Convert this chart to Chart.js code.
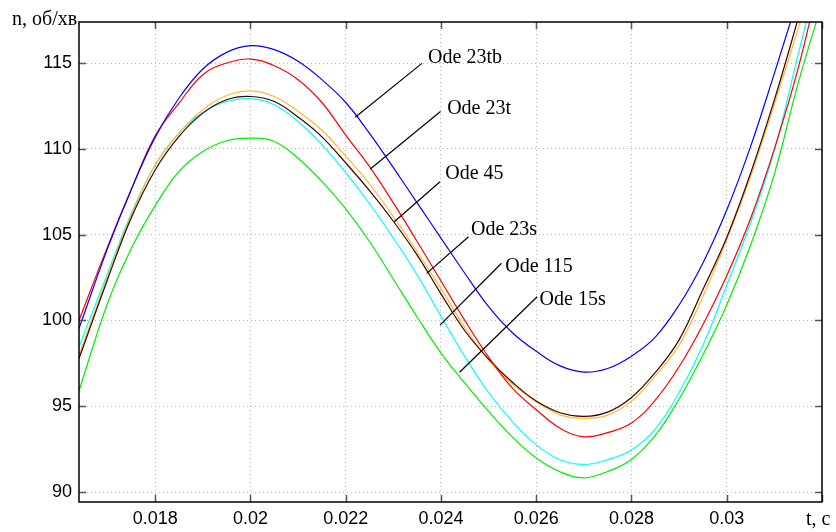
<!DOCTYPE html>
<html>
<head>
<meta charset="utf-8">
<script src="https://cdn.jsdelivr.net/npm/chart.js@4/dist/chart.umd.min.js"></script>
<style>
  body { margin: 0; background: #fff; }
  #wrap { width: 836px; height: 532px; }
</style>
</head>
<body>
<div id="wrap"><canvas id="lineChart"></canvas></div>
<script>
// time samples, s
const times = [0.0164, 0.0170, 0.0175, 0.0180, 0.0185, 0.0190, 0.0195, 0.0200, 0.0205, 0.0210,
               0.0215, 0.0220, 0.0225, 0.0230, 0.0235, 0.0240, 0.0245, 0.0250, 0.0255, 0.0260,
               0.0265, 0.0270, 0.0275, 0.0280, 0.0285, 0.0290, 0.0295, 0.0300, 0.0305, 0.0310,
               0.0315, 0.0320];

// speed n, rpm, one array per solver
const ode23tb = [99.53, 104.2, 107.65, 110.68, 112.96, 114.65, 115.62, 116.01, 115.78, 115.10,
                 114.03, 112.7, 110.9, 108.9, 106.85, 104.8, 102.75, 100.8, 99.28, 98.2,
                 97.35, 96.99, 97.2, 97.92, 99.03, 100.9, 103.35, 106.43, 110.13, 114.4,
                 118.8, 123.0];
const ode23t = [100.0, 104.3, 107.65, 110.76, 112.66, 114.32, 115.0, 115.23, 114.84, 114.03,
                112.7, 110.8, 108.96, 106.85, 104.6, 102.3, 100.0, 97.87, 96.05, 94.8,
                93.72, 93.22, 93.46, 94.02, 95.36, 97.3, 99.75, 102.6, 105.94, 110.0,
                114.7, 120.5];
const ode45 = [97.97, 102.55, 106.15, 109.06, 110.91, 112.28, 113.11, 113.38, 113.05, 112.18,
               111.08, 109.57, 107.95, 106.05, 104.0, 101.85, 99.6, 97.7, 96.3, 95.26,
               94.5, 94.29, 94.48, 95.3, 96.78, 98.56, 101.4, 104.7, 108.38, 112.6,
               117.0, 121.5];
const ode23s = [97.78, 102.39, 106.0, 108.77, 110.72, 112.08, 112.86, 113.05, 112.76, 111.85,
                110.7, 109.18, 107.56, 105.78, 103.81, 101.55, 99.4, 97.75, 96.4, 95.3,
                94.62, 94.41, 94.66, 95.51, 96.97, 98.87, 101.8, 104.83, 108.57, 112.85,
                117.6, 122.5];
const ode115 = [98.46, 102.74, 106.25, 109.06, 110.91, 112.12, 112.76, 112.92, 112.57, 111.59,
                110.24, 108.61, 106.8, 104.8, 102.65, 100.25, 97.9, 95.8, 94.1, 92.75,
                91.88, 91.61, 91.88, 92.45, 93.67, 95.8, 98.55, 102.05, 105.69, 109.9,
                115.5, 121.0];
const ode15s = [95.9, 101.0, 104.2, 106.69, 108.68, 109.84, 110.47, 110.62, 110.43, 109.45,
                108.1, 106.5, 104.6, 102.4, 100.2, 98.1, 96.35, 94.7, 93.2, 91.98,
                91.18, 90.83, 91.2, 91.9, 93.3, 95.42, 97.98, 100.9, 104.38, 108.53,
                113.83, 118.5];

const xTicks = [0.018, 0.020, 0.022, 0.024, 0.026, 0.028, 0.030, 0.032];
const xTickLabels = ['0.018', '0.02', '0.022', '0.024', '0.026', '0.028', '0.03', ''];
const yTicks = [90, 95, 100, 105, 110, 115];

// callouts: text anchor and leader line ends, in data units
const callouts = [
    { text: 'Ode 23tb', at: [0.02373, 115.33], from: [0.0236, 114.98], to: [0.0222, 111.84] },
    { text: 'Ode 23t',  at: [0.02413, 112.35], from: [0.02399, 112.17], to: [0.02251, 108.81] },
    { text: 'Ode 45',   at: [0.02409, 108.57], from: [0.02398, 108.08], to: [0.02302, 105.75] },
    { text: 'Ode 23s',  at: [0.02463, 105.27], from: [0.02458, 104.88], to: [0.0237, 102.74] },
    { text: 'Ode 115',  at: [0.02535, 103.13], from: [0.02527, 103.33], to: [0.02398, 99.73] },
    { text: 'Ode 15s',  at: [0.02607, 101.22], from: [0.02602, 101.38], to: [0.02439, 96.98] }
];

function series(label, values, color) {
    return {
        label: label,
        data: times.map((t, i) => ({ x: t, y: values[i] })),
        borderColor: color,
        borderWidth: 1.2,
        pointRadius: 0,
        tension: 0.4,
        fill: false
    };
}

// frame, inward ticks, axis names and callouts
const decor = {
    id: 'decor',
    afterDatasetsDraw(chart) {
        const ctx = chart.ctx;
        const a = chart.chartArea;
        const xs = chart.scales.x, ys = chart.scales.y;
        ctx.save();

        ctx.strokeStyle = '#555';
        ctx.lineWidth = 1.5;
        ctx.beginPath();
        xTicks.forEach(v => {
            const px = Math.round(xs.getPixelForValue(v)) + 0.5;
            ctx.moveTo(px, a.bottom); ctx.lineTo(px, a.bottom - 7);
            ctx.moveTo(px, a.top); ctx.lineTo(px, a.top + 7);
        });
        yTicks.forEach(v => {
            const py = Math.round(ys.getPixelForValue(v)) + 0.5;
            ctx.moveTo(a.left, py); ctx.lineTo(a.left + 7, py);
            ctx.moveTo(a.right, py); ctx.lineTo(a.right - 7, py);
        });
        ctx.stroke();

        ctx.strokeStyle = '#000';
        ctx.lineWidth = 1.5;
        ctx.strokeRect(a.left, a.top, a.right - a.left, a.bottom - a.top);

        ctx.fillStyle = '#000';
        ctx.font = '20px "Liberation Serif", "Times New Roman", serif';
        ctx.textBaseline = 'alphabetic';
        ctx.textAlign = 'left';
        ctx.fillText('n, об/хв', 12, 25);
        ctx.fillText('t, с', 806, 525);

        ctx.lineWidth = 1.2;
        ctx.textBaseline = 'middle';
        callouts.forEach(c => {
            ctx.beginPath();
            ctx.moveTo(xs.getPixelForValue(c.from[0]), ys.getPixelForValue(c.from[1]));
            ctx.lineTo(xs.getPixelForValue(c.to[0]), ys.getPixelForValue(c.to[1]));
            ctx.stroke();
            ctx.fillText(c.text, xs.getPixelForValue(c.at[0]), ys.getPixelForValue(c.at[1]));
        });
        ctx.restore();
    }
};

const tickFont = { family: '"Liberation Sans", Arial, sans-serif', size: 18 };

new Chart(document.getElementById('lineChart').getContext('2d'), {
    type: 'line',
    data: {
        datasets: [
            series('Ode 23tb', ode23tb, '#0000ff'),
            series('Ode 23t', ode23t, '#ff0000'),
            series('Ode 23s', ode23s, '#3a0000'),
            series('Ode 45', ode45, '#ffb830'),
            series('Ode 115', ode115, '#00ffff'),
            series('Ode 15s', ode15s, '#00ee00')
        ]
    },
    options: {
        responsive: true,
        maintainAspectRatio: false,
        animation: false,
        layout: { padding: { top: 22, right: 14, left: 0, bottom: 0 } },
        plugins: {
            legend: { display: false },
            tooltip: { enabled: false }
        },
        scales: {
            x: {
                type: 'linear',
                min: 0.0164,
                max: 0.032,
                afterBuildTicks: s => { s.ticks = xTicks.map(v => ({ value: v })); },
                afterFit: s => { s.height = 30; },
                ticks: {
                    font: tickFont,
                    color: '#000',
                    padding: 6,
                    maxRotation: 0,
                    autoSkip: false,
                    callback: (v, i) => xTickLabels[i]
                },
                grid: { color: '#b8b8b8', lineWidth: 1, drawTicks: false },
                border: { display: false, dash: [1, 3] }
            },
            y: {
                min: 89.42,
                max: 117.39,
                afterBuildTicks: s => { s.ticks = yTicks.map(v => ({ value: v })); },
                afterFit: s => { s.width = 79; },
                ticks: {
                    font: tickFont,
                    color: '#000',
                    padding: 7,
                    callback: v => String(v)
                },
                grid: { color: '#b8b8b8', lineWidth: 1, drawTicks: false },
                border: { display: false, dash: [1, 3] }
            }
        }
    },
    plugins: [decor]
});
</script>
</body>
</html>
